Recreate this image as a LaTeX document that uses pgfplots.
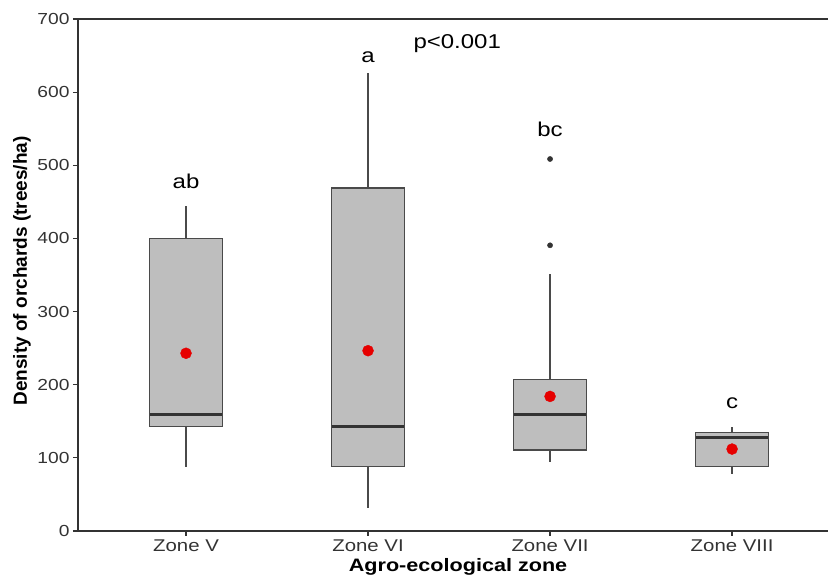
\documentclass[border=0pt]{standalone}
\usepackage{fontspec}
\setmainfont{Liberation Sans}[FakeStretch=1.2]
\newfontfamily\ylabfont{Liberation Sans}
\usepackage{pgfplots}
\pgfplotsset{compat=1.18}
\definecolor{boxfill}{HTML}{BEBEBE}
\definecolor{boxedge}{HTML}{4A4A4A}
\definecolor{axcol}{HTML}{333333}
\definecolor{meanred}{HTML}{E60000}
\begin{document}
\begin{tikzpicture}
\begin{axis}[
  scale only axis, width=750pt, height=512pt,
  xmin=0.4066, xmax=4.527, ymin=0, ymax=700,
  axis line style={draw=none},
  tick pos=left, tick align=outside,
  major tick length=5pt,
  tick style={axcol, line width=1.2pt},
  ytick={0,100,...,700},
  xtick={1,2,3,4}, xticklabels={Zone V, Zone VI, Zone VII, Zone VIII},
  /pgf/number format/assume math mode=true,
  yticklabel style={font=\fontsize{16}{19}\selectfont, text=axcol},
  xticklabel style={font=\fontsize{17}{20}\selectfont, text=axcol},
  every axis x label/.style={at={(rel axis cs:0.5067,-0.0795)}, anchor=base},
  every axis y label/.style={at={(rel axis cs:-0.0747,0.508)}, rotate=90, anchor=center},
  xlabel={Agro-ecological zone},
  ylabel={Density of orchards (trees/ha)},
  xlabel style={font=\fontsize{18}{21}\selectfont\bfseries, text=black},
  ylabel style={font=\ylabfont\fontsize{19}{22}\selectfont\bfseries, text=black},
  clip=false,
  box/.style={fill=boxfill, draw=boxedge, line width=1.4pt, line join=miter},
  whisk/.style={draw=boxedge, line width=1.2pt},
  med/.style={draw=axcol, line width=2.8pt},
]
% boxes (Q1, Q3)
\addplot[box] coordinates {(0.8,143) (1.2,143) (1.2,400) (0.8,400)} -- cycle;
\addplot[box] coordinates {(1.8,88) (2.2,88) (2.2,469) (1.8,469)} -- cycle;
\addplot[box] coordinates {(2.8,111) (3.2,111) (3.2,207) (2.8,207)} -- cycle;
\addplot[box] coordinates {(3.8,88) (4.2,88) (4.2,135) (3.8,135)} -- cycle;
% whiskers
\addplot[whisk] coordinates {(1,400) (1,444)};
\addplot[whisk] coordinates {(1,143) (1,88)};
\addplot[whisk] coordinates {(2,469) (2,626)};
\addplot[whisk] coordinates {(2,88) (2,32)};
\addplot[whisk] coordinates {(3,207) (3,351)};
\addplot[whisk] coordinates {(3,111) (3,95)};
\addplot[whisk] coordinates {(4,135) (4,142.6)};
\addplot[whisk] coordinates {(4,88) (4,78)};
% medians
\addplot[med] coordinates {(0.8,159) (1.2,159)};
\addplot[med] coordinates {(1.8,143) (2.2,143)};
\addplot[med] coordinates {(2.8,159) (3.2,159)};
\addplot[med] coordinates {(3.8,127.6) (4.2,127.6)};
% outliers
\addplot[only marks, mark=*, mark size=2.6pt, color=axcol] coordinates {(3,508.6) (3,390.6)};
% means
\addplot[only marks, mark=*, mark size=5.5pt, color=meanred] coordinates {(1,243) (2,246.5) (3,184) (4,112)};
\node[anchor=base, font=\fontsize{20}{24}\selectfont] at (axis cs:1,467.6) {ab};
\node[anchor=base, font=\fontsize{20}{24}\selectfont] at (axis cs:2,640) {a};
\node[anchor=base, font=\fontsize{20}{24}\selectfont] at (axis cs:3,539) {bc};
\node[anchor=base, font=\fontsize{20}{24}\selectfont] at (axis cs:4,167.7) {c};
\node[anchor=base, font=\fontsize{20}{24}\selectfont] at (axis cs:2.49,660) {p<0.001};
\draw[axcol, line width=1.5pt] (rel axis cs:1,1) -- (rel axis cs:0,1) -- (rel axis cs:0,0) -- (rel axis cs:1,0);
\coordinate (bl) at (rel axis cs:0,0);
\coordinate (tr) at (rel axis cs:1,1);
\end{axis}
\pgfresetboundingbox
\path ([xshift=-78pt,yshift=-50pt]bl) rectangle ([yshift=19pt]tr);
\end{tikzpicture}
\end{document}
